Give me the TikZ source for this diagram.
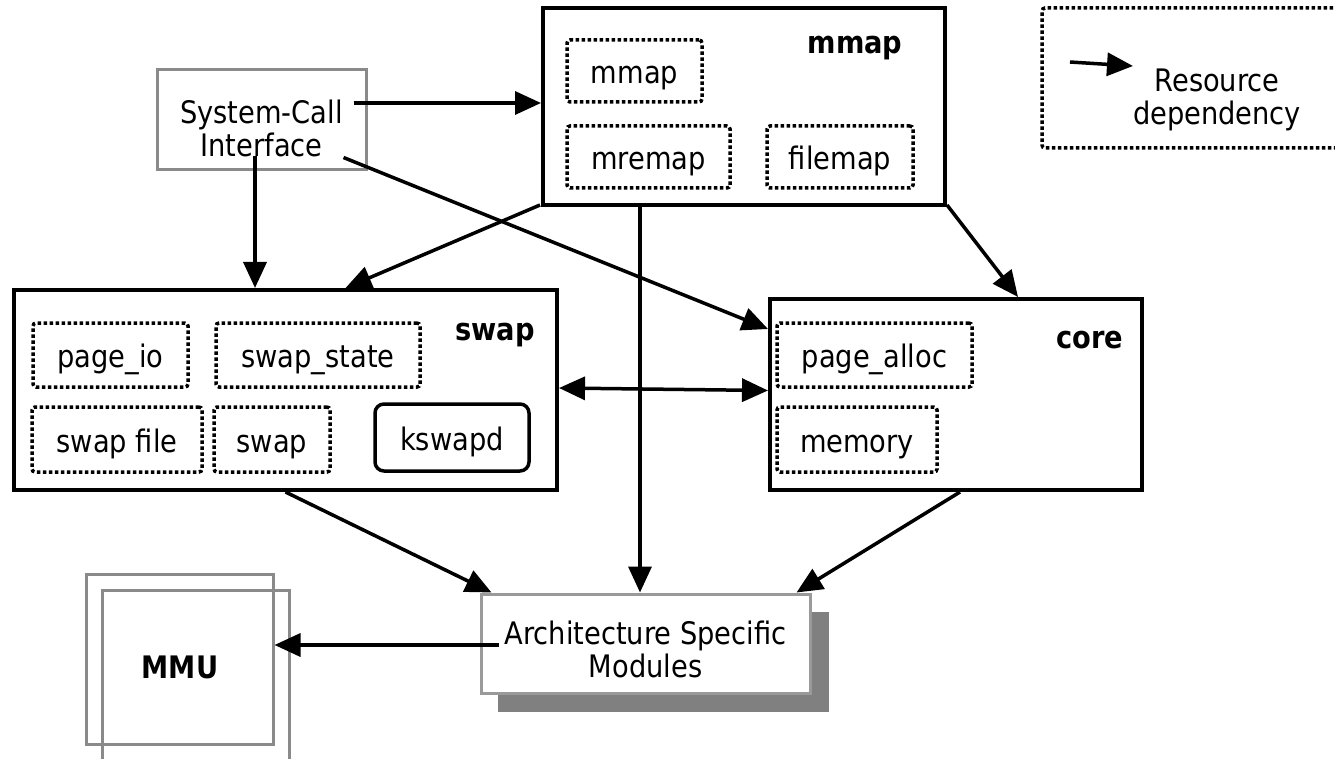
\documentclass[tikz,border=0pt]{standalone}
\usepackage{fontspec}
\setmainfont{DejaVu Sans}[FakeStretch=0.88]
\usetikzlibrary{arrows.meta,calc}
\definecolor{framegray}{HTML}{8A8A8A}
\definecolor{archgray}{HTML}{9A9A9A}
\definecolor{shadowgray}{HTML}{808080}
\tikzset{
  txt/.style={font=\fontsize{31}{33}\selectfont, align=center},
  boxtext/.style={font=\fontsize{31}{33}\selectfont, text height=25pt, text depth=0pt},
  lbl/.style={font=\fontsize{31}{33}\selectfont\bfseries, inner sep=0pt, anchor=base},
  module/.style={draw=black, line width=4pt, fill=white, inner sep=0pt},
  part/.style={draw=black, line width=3.5pt, dash pattern=on 3.5pt off 2.5pt,
    rounded corners=3pt, inner sep=0pt, boxtext},
  daemon/.style={draw=black, line width=3.5pt, rounded corners=9pt, inner sep=0pt, boxtext},
  plain/.style={draw=framegray, line width=3pt, inner sep=0pt},
  tip/.tip={Triangle[length=26pt,width=23pt]},
  dep/.style={line width=3.5pt, -tip},
  depboth/.style={line width=3.5pt, tip-tip}
}
\begin{document}
\begin{tikzpicture}[x=1pt,y=-1pt]
\clip (0,0) rectangle (1335,759);
\fill[white] (0,0) rectangle (1335,759);

% system-call interface
\node[plain, fill=white, minimum width=209pt, minimum height=100pt] (sci) at (261.5,120) {};
\node[txt, inner sep=0pt] (scitext) at (261.5,128) {System-Call\\Interface};

% mmap module
\node[module, minimum width=402pt, minimum height=197pt] (mmap) at (744,106.5) {};
\node[lbl] (mmaplbl) at (855,54) {mmap};
\node[part, minimum width=135pt, minimum height=62pt] (mmapfn) at (634.5,71) {mmap};
\node[part, minimum width=163pt, minimum height=62pt] (mremap) at (648.5,157) {mremap};
\node[part, minimum width=146pt, minimum height=62pt] (filemap) at (840,157) {filemap};

% swap module
\node[module, minimum width=543pt, minimum height=200pt] (swap) at (285.5,390) {};
\node[lbl] (swaplbl) at (495,340) {swap};
\node[part, minimum width=155pt, minimum height=64pt] (pageio) at (110.5,355) {page\_io};
\node[part, minimum width=204pt, minimum height=64pt] (swapstate) at (318,355) {swap\_state};
\node[part, minimum width=170pt, minimum height=65pt] (swapfile) at (117,439.5) {swap file};
\node[part, minimum width=116pt, minimum height=65pt] (swapfn) at (272,439.5) {swap};
\node[daemon, minimum width=154pt, minimum height=67pt] (kswapd) at (452,437.5) {kswapd};

% core module
\node[module, minimum width=372pt, minimum height=191pt] (core) at (956,394.5) {};
\node[lbl] (corelbl) at (1090,348) {core};
\node[part, minimum width=195pt, minimum height=64pt] (pagealloc) at (874.5,355) {page\_alloc};
\node[part, minimum width=160pt, minimum height=65pt] (memory) at (857,439.5) {memory};

% architecture specific modules with drop shadow
\fill[shadowgray] (498,612) rectangle (829,712);
\node[draw=archgray, line width=3pt, fill=white, inner sep=0pt,
  minimum width=329pt, minimum height=99pt] (arch) at (645.5,643.5) {};
\node[txt, inner sep=0pt] (archtext) at (645.5,649) {Architecture Specific\\Modules};

% MMU (two overlapping frames)
\node[plain, minimum width=187pt, minimum height=170pt] (mmuback) at (179.5,659) {};
\node[plain, minimum width=187pt, minimum height=170pt] (mmufront) at (195.5,675) {};
\node[lbl] (mmulbl) at (180,678) {MMU};

% legend
\draw[line width=3.5pt, dash pattern=on 3.5pt off 2.5pt, rounded corners=3pt]
  (1345,8) -- (1042,8) -- (1042,148) -- (1345,148);
\coordinate (legfrom) at (1070,62);
\coordinate (legto) at (1133,66);
\draw[dep] (legfrom) -- (legto);
\node[txt, inner sep=0pt] (legtext) at (1217,100) {Resource\\dependency};

% resource dependencies
\draw[dep] ([shift={(-14,-17)}]sci.east) -- ([shift={(0,-3.5)}]mmap.west);
\draw[dep] ([shift={(-6.5,-15)}]sci.south) -- ([shift={(-30.5,0)}]swap.north);
\draw[dep] ([shift={(-24,-14)}]sci.south east) -- ([shift={(0,32)}]core.north west);
\draw[dep] ([shift={(-1,-2)}]mmap.south west) -- ([shift={(60,0)}]swap.north);
\draw[dep] ([shift={(0,-2)}]mmap.south east) -- ([shift={(62,0)}]core.north);
\draw[dep] ([xshift=-104pt]mmap.south) -- ([xshift=-104pt]mmap.south |- arch.north);
\draw[dep] (swap.south) -- ([xshift=12pt]arch.north west);
\draw[dep] ([xshift=4pt]core.south) -- ([xshift=-15pt]arch.north east);
\draw[depboth] ([shift={(0,-2)}]swap.east) -- ([shift={(0,-4)}]core.west);
\draw[dep] ([shift={(19,1.5)}]arch.west) -- ([shift={(0,1.5)}]arch.west -| mmuback.east);
\end{tikzpicture}
\end{document}
